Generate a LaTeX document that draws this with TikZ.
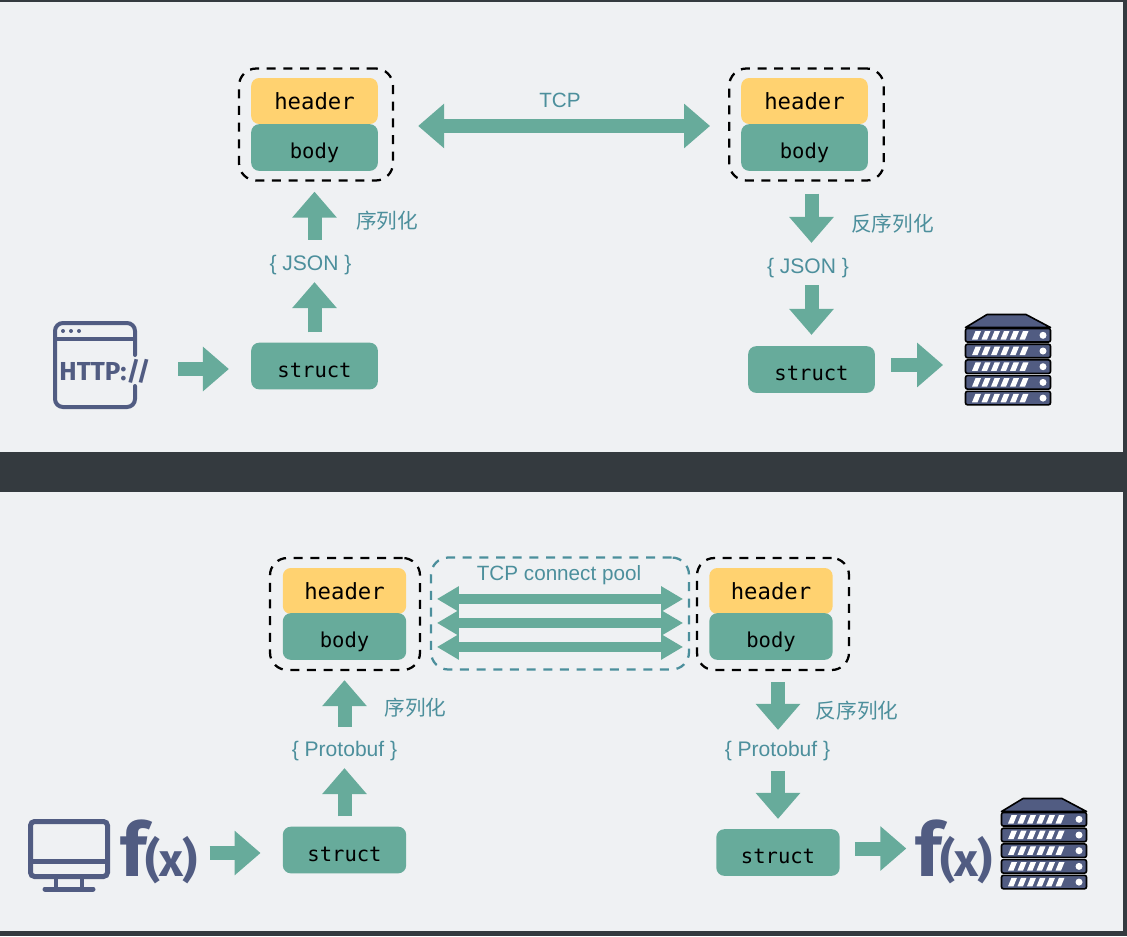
\documentclass[tikz,border=0pt]{standalone}
\usepackage{fontspec}
\setmainfont{Liberation Sans}
\newfontfamily\cjk{Noto Sans CJK SC}
\newfontfamily\codefont{DejaVu Sans Mono}
\newfontfamily\iconfont{Fira Sans}[BoldFont={Fira Sans Bold}]
\usetikzlibrary{arrows.meta}

\definecolor{panelgrey}{HTML}{EFF1F3}
\definecolor{darkband}{HTML}{343A3F}
\definecolor{arrowteal}{HTML}{67AB9B}
\definecolor{headeryellow}{HTML}{FFD270}
\definecolor{labelteal}{HTML}{4C8F9C}
\definecolor{iconblue}{HTML}{515C82}

\newcommand{\fxword}{\iconfont\bfseries\fontsize{56}{56}\selectfont f\kern-1pt\fontsize{35}{35}\selectfont(\kern-1pt x\kern-1pt)}

\tikzset{
  fatarrow/.style={draw=arrowteal,line width=10.5pt,-{Triangle[length=19.5pt,width=32.25pt]}},
  widearrow/.style={draw=arrowteal,line width=10.5pt,{Triangle[length=19.5pt,width=32.25pt]}-{Triangle[length=19.5pt,width=32.25pt]}},
  thinarrow/.style={draw=arrowteal,line width=7pt,{Triangle[length=16.5pt,width=18pt]}-{Triangle[length=16.5pt,width=18pt]}},
  headerbox/.style={fill=headeryellow,rounded corners=6pt,minimum width=95pt,minimum height=34.5pt,inner sep=0pt,text depth=0pt,text height=12pt,font=\codefont\fontsize{16.7}{18}\selectfont},
  bodybox/.style={fill=arrowteal,rounded corners=6pt,minimum width=95pt,minimum height=35pt,inner sep=0pt,text depth=0pt,text height=15.75pt,font=\codefont\fontsize{15.4}{18}\selectfont},
  structbox/.style={bodybox,text height=16.5pt,font=\codefont\fontsize{15.4}{18}\selectfont},
  frame/.style={draw=black,line width=1.7pt,dash pattern=on 6.75pt off 5.75pt,rounded corners=13pt,minimum height=84pt},
  poolframe/.style={frame,draw=labelteal},
  label/.style={text=labelteal,inner sep=0.75pt,font=\fontsize{15.8}{18}\selectfont},
  cjklabel/.style={text=labelteal,inner sep=0.75pt,font=\cjk\fontsize{15.5}{18}\selectfont},
  iconspot/.style={inner sep=0pt},
  fxtext/.style={text=iconblue,inner sep=0pt},
  serverstack/.pic={
    \draw [fill=iconblue,draw=black,line width=1.2pt,line join=round] (-42.5,-32) -- (-21,-45) -- (18,-45) -- (42.5,-32) -- cycle ;
    \foreach \row in {0,...,4} {
      \begin{scope}[yshift={\row*15.7*0.75pt}]
        \draw [fill=iconblue,draw=black,line width=1.2pt,rounded corners=1.5pt] (-42.5,-31) rectangle (42.5,-17.5) ;
        \foreach \bar in {0,...,5}
          \fill [white] (-36+\bar*9.5,-20) -- (-32.5+\bar*9.5,-28.5) -- (-27+\bar*9.5,-28.5) -- (-30.5+\bar*9.5,-20) -- cycle ;
        \fill [white] (35,-24.2) circle (3.5) ;
      \end{scope}
    }
  },
  browserframe/.pic={
    \draw [draw=iconblue,line width=3pt,rounded corners=6pt,line cap=round] (40,-10) -- (40,-42) -- (-40,-42) -- (-40,42) -- (40,42) -- (40,21) ;
    \draw [draw=iconblue,line width=3pt] (-40,-26) -- (40,-26) ;
    \foreach \dotx in {-32,-24,-16}
      \fill [iconblue] (\dotx,-34) circle (2) ;
  },
  monitorframe/.pic={
    \draw [draw=iconblue,line width=3.75pt,rounded corners=3pt] (-38.5,-33.5) rectangle (38.5,21.5) ;
    \draw [draw=iconblue,line width=3.75pt] (-38.5,6) -- (38.5,6) ;
    \draw [draw=iconblue,line width=3pt] (-13,21.5) -- (-13,34) ;
    \draw [draw=iconblue,line width=3pt] (13,21.5) -- (13,34) ;
    \draw [draw=iconblue,line width=3.75pt,line cap=round] (-24,34) -- (24,34) ;
  },
}

\begin{document}
\begin{tikzpicture}[x=0.75pt,y=0.75pt,yscale=-1]
\useasboundingbox (0,0) rectangle (1127,936);

% Panels
\fill [darkband] (0,0) rectangle (1127,936) ;
\fill [panelgrey] (0,2) rectangle (1123,452) ;
\fill [panelgrey] (0,491.5) rectangle (1123,931) ;

% Top left message
\node (msgA) [frame,minimum width=115.5pt] at (316,124.5) {};
\node (headerA) [headerbox] at (314.5,101) {header};
\node (bodyA) [bodybox] at (314.5,147.5) {body};
% Top right message
\node (msgB) [frame,minimum width=116pt] at (806.5,124.5) {};
\node (headerB) [headerbox] at (804.5,101) {header};
\node (bodyB) [bodybox] at (804.5,147.5) {body};
% Top text
\node (tcpA) [label,font=\fontsize{15.5}{18}\selectfont] at (560,100) {TCP};
\node (serA) [cjklabel] at (387,221) {序列化};
\node (deserA) [cjklabel] at (892.5,224) {反序列化};
\node (jsonA) [label] at (310.5,265) {\{ JSON \}};
\node (jsonB) [label] at (808,268) {\{ JSON \}};
\node (structA) [structbox] at (314.5,366) {struct};
\node (structB) [structbox] at (811.5,369.5) {struct};
% Top icons
\node (httpA) [iconspot,minimum width=63pt,minimum height=65pt] at (95,365) {};
\pic [yscale=-1] at (httpA) {browserframe};
\node (httpword) [text=iconblue,inner sep=0pt,font=\iconfont\bfseries\fontsize{19.5}{22}\selectfont] at (105,371) {HTTP://};
\node (serverA) [iconspot,minimum width=64pt,minimum height=68pt] at (1008,359.5) {};
\pic [yscale=-1] at (serverA) {serverstack};

% Top arrows
\draw [widearrow,shorten <=18pt,shorten >=13.5pt]   ([yshift=1.1pt]msgA.east) -- ([yshift=1.1pt]msgB.west) ;
\draw [fatarrow,shorten <=30.75pt,shorten >=16.5pt]   ([yshift=2.25pt]structA.west -| httpA.east) -- ([yshift=2.25pt]structA.west) ;
\draw [fatarrow,shorten <=7.5pt,shorten >=4.5pt]   (structA.north) -- (structA.north |- jsonA.south) ;
\draw [fatarrow,shorten <=10.5pt,shorten >=7.5pt]   (structA.north |- jsonA.north) -- (structA.north |- msgA.south) ;
\draw [fatarrow,shorten <=9pt,shorten >=10.5pt]   (structB.north |- msgB.south) -- (structB.north |- jsonB.north) ;
\draw [fatarrow,shorten <=4.5pt,shorten >=8.25pt]   (structB.north |- jsonB.south) -- (structB.north) ;
\draw [fatarrow,shorten <=12pt,shorten >=16.5pt]   ([yshift=-3.4pt]structB.east) -- ([yshift=-3.4pt]structB.east -| serverA.west) ;

% Bottom left message
\node (msgC) [frame,minimum width=112.5pt] at (345,614) {};
\node (headerC) [headerbox,minimum width=92.5pt] at (344.5,591) {header};
\node (bodyC) [bodybox,minimum width=92.5pt] at (344.5,636.5) {body};
% Bottom pool
\node (poolC) [poolframe,minimum width=193.5pt] at (560,613.5) {};
\node (poolword) [label,font=\fontsize{15.5}{18}\selectfont] at (559,575) {TCP connect pool};
% Bottom right message
\node (msgD) [frame,minimum width=114pt] at (773,614) {};
\node (headerD) [headerbox,minimum width=92.5pt] at (771,591) {header};
\node (bodyD) [bodybox,minimum width=92.5pt] at (771,636.5) {body};
% Bottom text
\node (serC) [cjklabel] at (415.5,708) {序列化};
\node (deserD) [cjklabel] at (857,711) {反序列化};
\node (protoC) [label] at (344.5,751) {\{ Protobuf \}};
\node (protoD) [label] at (777.5,751) {\{ Protobuf \}};
\node (structC) [structbox,minimum width=92.5pt] at (344.5,850) {struct};
\node (structD) [structbox,minimum width=92.5pt] at (778,852.5) {struct};
% Bottom icons
\node (monitorC) [iconspot,minimum width=61.5pt,minimum height=54pt] at (69,855) {};
\pic [yscale=-1] at (monitorC) {monitorframe};
\node (fxC) [fxtext,anchor=base] at (159,876) {\fxword};
\node (fxD) [fxtext,anchor=base] at (954,876) {\fxword};
\node (serverD) [iconspot,minimum width=64pt,minimum height=68pt] at (1044,843.5) {};
\pic [yscale=-1] at (serverD) {serverstack};

% Bottom arrows
\foreach \dy in {-10.9,7.1,25.1}
  \draw [thinarrow,shorten <=5.25pt,shorten >=5.25pt]   ([yshift=\dy pt]poolC.west) -- ([yshift=\dy pt]poolC.east) ;
\draw [fatarrow,shorten <=9pt,shorten >=16.5pt]   ([yshift=2.25pt]structC.west -| fxC.east) -- ([yshift=2.25pt]structC.west) ;
\draw [fatarrow,shorten <=7.5pt,shorten >=4.5pt]   (structC.north) -- (structC.north |- protoC.south) ;
\draw [fatarrow,shorten <=9.75pt,shorten >=6.75pt]   (structC.north |- protoC.north) -- (structC.north |- msgC.south) ;
\draw [fatarrow,shorten <=8.25pt,shorten >=7.5pt]   (structD.north |- msgD.south) -- (structD.north |- protoD.north) ;
\draw [fatarrow,shorten <=6.75pt,shorten >=7.5pt]   (structD.north |- protoD.south) -- (structD.north) ;
\draw [fatarrow,shorten <=11.25pt,shorten >=6.75pt]   ([yshift=-3pt]structD.east) -- ([yshift=-3pt]structD.east -| fxD.west) ;

\end{tikzpicture}
\end{document}
